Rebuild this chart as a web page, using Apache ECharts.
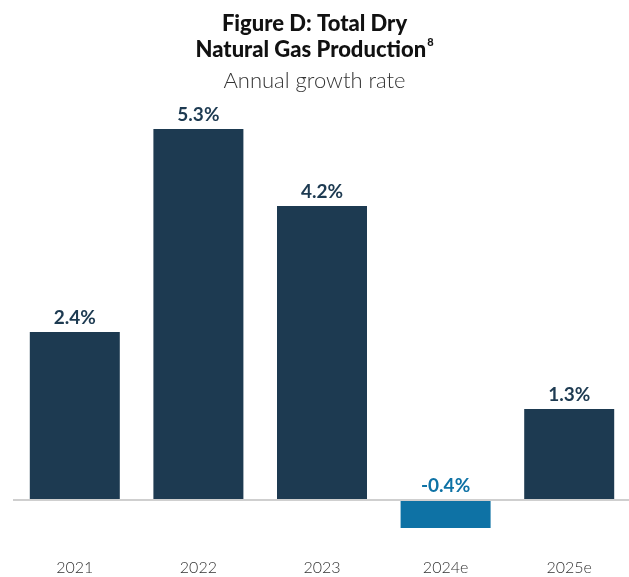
<!DOCTYPE html>
<html>
<head>
<meta charset="utf-8">
<script src="https://cdn.jsdelivr.net/npm/echarts@6/dist/echarts.min.js"></script>
<style>
  html, body { margin: 0; padding: 0; background: #fff; }
  #chart { width: 629px; height: 577px; }
</style>
</head>
<body>
<div id="chart"></div>
<script>
// annual growth rate of dry gas production, %
var years = ['2021', '2022', '2023', '2024e', '2025e'];
var growth = [2.4, 5.3, 4.2, -0.4, 1.3];

var navy = '#1d3a51';
var teal = '#0e72a5';

var chart = echarts.init(document.getElementById('chart'));

var option = {
    backgroundColor: '#fff',
    animation: false,
    title: [{
        text: '{b|Figure D: Total Dry}\n{b|Natural Gas Production}{s|8}',
        left: 'center',
        top: 6,
        textStyle: {
            rich: {
                b: { fontFamily: 'Lato', fontWeight: 900, fontSize: 22, color: '#111', lineHeight: 26 },
                s: { fontFamily: 'Lato', fontWeight: 900, fontSize: 11, color: '#111', verticalAlign: 'top', lineHeight: 26, padding: [0, 0, 8, 1] }
            }
        }
    }, {
        text: 'Annual growth rate',
        left: 'center',
        top: 65,
        textStyle: { fontFamily: 'Lato', fontWeight: 300, fontSize: 22, color: '#333' }
    }],
    grid: { left: 13, right: -2, top: 80, bottom: 21, outerBoundsMode: 'none' },
    xAxis: {
        type: 'category',
        data: years,
        axisLine: { show: false, onZero: false },
        axisTick: { show: false },
        axisLabel: { margin: 4, fontFamily: 'Lato', fontWeight: 300, fontSize: 16, color: '#333' }
    },
    yAxis: {
        type: 'value',
        min: -0.8,
        max: 6,
        show: false
    },
    series: [{
        type: 'bar',
        barWidth: 90,
        data: growth.map(function (v) {
            var c = v < 0 ? teal : navy;
            return { value: v, itemStyle: { color: c }, label: { color: c } };
        }),
        label: {
            show: true,
            position: 'top',
            distance: 5,
            fontFamily: 'Lato',
            fontWeight: 'bold',
            fontSize: 19,
            formatter: function (p) { return p.value.toFixed(1) + '%'; }
        },
        markLine: {
            silent: true,
            symbol: 'none',
            label: { show: false },
            lineStyle: { color: '#cfcfcf', width: 2, type: 'solid' },
            data: [{ yAxis: 0 }]
        }
    }]
};

chart.setOption(option);
</script>
</body>
</html>
